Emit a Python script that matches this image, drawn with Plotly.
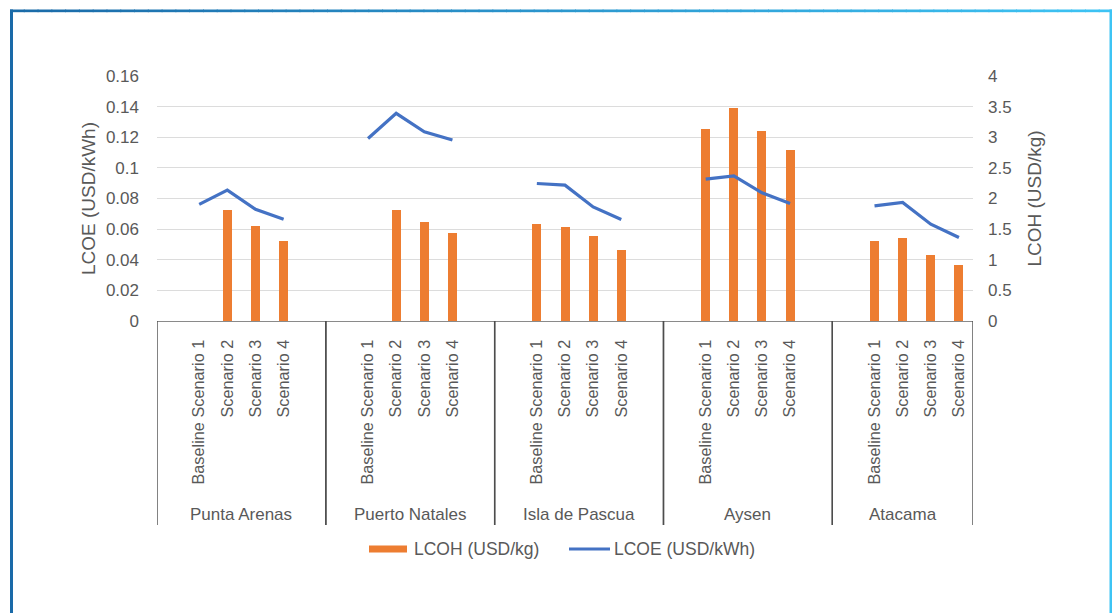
import plotly.graph_objects as go

# ---- data -------------------------------------------------------------
locations = ["Punta Arenas", "Puerto Natales", "Isla de Pascua", "Aysen", "Atacama"]
scenarios = ["Baseline Scenario 1", "Scenario 2", "Scenario 3", "Scenario 4"]

# LCOH (USD/kg), one list per location, scenario order as above
lcoh_punta_arenas = [None, 1.82, 1.55, 1.31]
lcoh_puerto_natales = [None, 1.82, 1.62, 1.43]
lcoh_isla_de_pascua = [1.58, 1.53, 1.39, 1.16]
lcoh_aysen = [3.13, 3.47, 3.11, 2.79]
lcoh_atacama = [1.30, 1.35, 1.08, 0.91]

# LCOE (USD/kWh)
lcoe_punta_arenas = [0.0762, 0.0855, 0.0730, 0.0665]
lcoe_puerto_natales = [0.1192, 0.1356, 0.1236, 0.1182]
lcoe_isla_de_pascua = [0.0898, 0.0887, 0.0745, 0.0663]
lcoe_aysen = [0.0927, 0.0948, 0.0837, 0.0768]
lcoe_atacama = [0.0752, 0.0774, 0.0632, 0.0545]

lcoe_ticks = [0, 0.02, 0.04, 0.06, 0.08, 0.1, 0.12, 0.14, 0.16]
lcoe_tick_text = ["0", "0.02", "0.04", "0.06", "0.08", "0.1", "0.12", "0.14", "0.16"]
lcoh_ticks = [0, 0.5, 1, 1.5, 2, 2.5, 3, 3.5, 4]
lcoh_tick_text = ["0", "0.5", "1", "1.5", "2", "2.5", "3", "3.5", "4"]

lcoh_all = [lcoh_punta_arenas, lcoh_puerto_natales, lcoh_isla_de_pascua, lcoh_aysen, lcoh_atacama]
lcoe_all = [lcoe_punta_arenas, lcoe_puerto_natales, lcoe_isla_de_pascua, lcoe_aysen, lcoe_atacama]

# ---- category slots: a blank slot before every group, and after all but the last
SLOTS_PER_GROUP = len(scenarios) + 2
n_slots = SLOTS_PER_GROUP * len(locations) - 1

bar_x, bar_y = [], []
line_x = list(range(n_slots))
line_y = [None] * n_slots
tick_vals, tick_text = [], []
group_bounds = []
for g, loc in enumerate(locations):
    start = g * SLOTS_PER_GROUP
    end = min(start + SLOTS_PER_GROUP, n_slots)
    group_bounds.append((start - 0.5, end - 0.5))
    for k, sc in enumerate(scenarios):
        pos = start + 1 + k
        tick_vals.append(pos)
        tick_text.append(sc)
        if lcoh_all[g][k] is not None:
            bar_x.append(pos)
            bar_y.append(lcoh_all[g][k])
        line_y[pos] = lcoe_all[g][k]

# ---- styling ----------------------------------------------------------
W, H = 1112, 613
PL, PR, PT, PB = 157, 973, 76, 321
FONT = "Liberation Sans, Arial, sans-serif"
GREY = "#595959"
ORANGE = "#ED7D31"
BLUE = "#4472C4"


def fx(px):
    return (px - PL) / (PR - PL)


def fy(py):
    return (PB - py) / (PB - PT)


fig = go.Figure()
fig.add_trace(go.Bar(x=bar_x, y=bar_y, width=0.32, marker=dict(color=ORANGE, line=dict(width=0)),
                     name="LCOH (USD/kg)", yaxis="y", showlegend=False))
fig.add_trace(go.Scatter(x=line_x, y=line_y, mode="lines", connectgaps=False,
                         line=dict(color=BLUE, width=3.2), name="LCOE (USD/kWh)",
                         yaxis="y2", showlegend=False))

shapes = []
# group dividers below the axis
for a, b in group_bounds:
    for xv in (a, b):
        shapes.append(dict(type="line", xref="x", yref="paper", x0=xv, x1=xv,
                           y0=0, y1=fy(525), line=dict(color="#4d4d4d", width=1.4)))

# legend swatches
shapes.append(dict(type="rect", xref="paper", yref="paper", x0=fx(369), x1=fx(407),
                   y0=fy(552.5), y1=fy(545.5), fillcolor=ORANGE, line=dict(width=0)))
shapes.append(dict(type="line", xref="paper", yref="paper", x0=fx(569), x1=fx(610),
                   y0=fy(549), y1=fy(549), line=dict(color=BLUE, width=3)))

# frame with a left-to-right blue gradient
c0 = (26, 106, 168)
c1 = (62, 196, 244)


def mix(t):
    return "rgb({},{},{})".format(*[round(a + (b - a) * t) for a, b in zip(c0, c1)])


def frame_rect(x0, x1, y0, y1, color):
    return dict(type="rect", xref="paper", yref="paper", x0=fx(x0), x1=fx(x1),
                y0=fy(y1), y1=fy(y0), fillcolor=color, line=dict(width=0), layer="above")


shapes.append(frame_rect(10, 13, 9.5, 650, mix(0)))
shapes.append(frame_rect(1109.5, 1112.5, 9.5, 650, mix(1)))
N = 80
for i in range(N):
    xa = 10 + (1112.5 - 10) * i / N
    xb = 10 + (1112.5 - 10) * (i + 1) / N + 1
    shapes.append(frame_rect(xa, xb, 9.5, 12.2, mix((i + 0.5) / N)))

annotations = []
for (a, b), loc in zip(group_bounds, locations):
    annotations.append(dict(x=(a + b) / 2, y=fy(514), xref="x", yref="paper", text=loc,
                            showarrow=False, xanchor="center", yanchor="middle",
                            font=dict(family=FONT, size=17, color=GREY)))
annotations.append(dict(x=fx(412), y=fy(549), xref="paper", yref="paper", text="LCOH (USD/kg)",
                        showarrow=False, xanchor="left", yanchor="middle",
                        font=dict(family=FONT, size=17.5, color=GREY)))
annotations.append(dict(x=fx(612), y=fy(549), xref="paper", yref="paper", text="LCOE (USD/kWh)",
                        showarrow=False, xanchor="left", yanchor="middle",
                        font=dict(family=FONT, size=17.5, color=GREY)))

fig.update_layout(
    width=W, height=H,
    margin=dict(l=PL, r=W - PR, t=PT, b=H - PB, pad=0),
    paper_bgcolor="white", plot_bgcolor="white",
    font=dict(family=FONT, color=GREY),
    bargap=0,
    xaxis=dict(range=[-0.5, n_slots - 0.5], tickmode="array", tickvals=tick_vals,
               ticktext=tick_text, tickangle=-90, ticks="", ticklabelstandoff=11,
               tickfont=dict(family=FONT, size=16.3, color=GREY),
               showgrid=False, zeroline=False, showline=True, linecolor="#8a8a8a",
               linewidth=1.4, fixedrange=True),
    yaxis=dict(range=[0, 4], side="right", tickmode="array", tickvals=lcoh_ticks,
               ticktext=lcoh_tick_text, showgrid=True, gridcolor="#dcdcdc", gridwidth=1.4,
               zeroline=False, showline=False, ticks="", ticklabelstandoff=14,
               tickfont=dict(family=FONT, size=17, color=GREY),
               title=dict(text="LCOH (USD/kg)", font=dict(family=FONT, size=19, color=GREY),
                          standoff=17)),
    yaxis2=dict(range=[0, 0.16], side="left", overlaying="y", tickmode="array",
                tickvals=lcoe_ticks, ticktext=lcoe_tick_text, showgrid=False,
                zeroline=False, showline=False, ticks="", ticklabelstandoff=17,
                tickfont=dict(family=FONT, size=17, color=GREY),
                title=dict(text="LCOE (USD/kWh)", font=dict(family=FONT, size=19, color=GREY),
                           standoff=5)),
    shapes=shapes,
    annotations=annotations,
)

fig.write_html("out.html")
